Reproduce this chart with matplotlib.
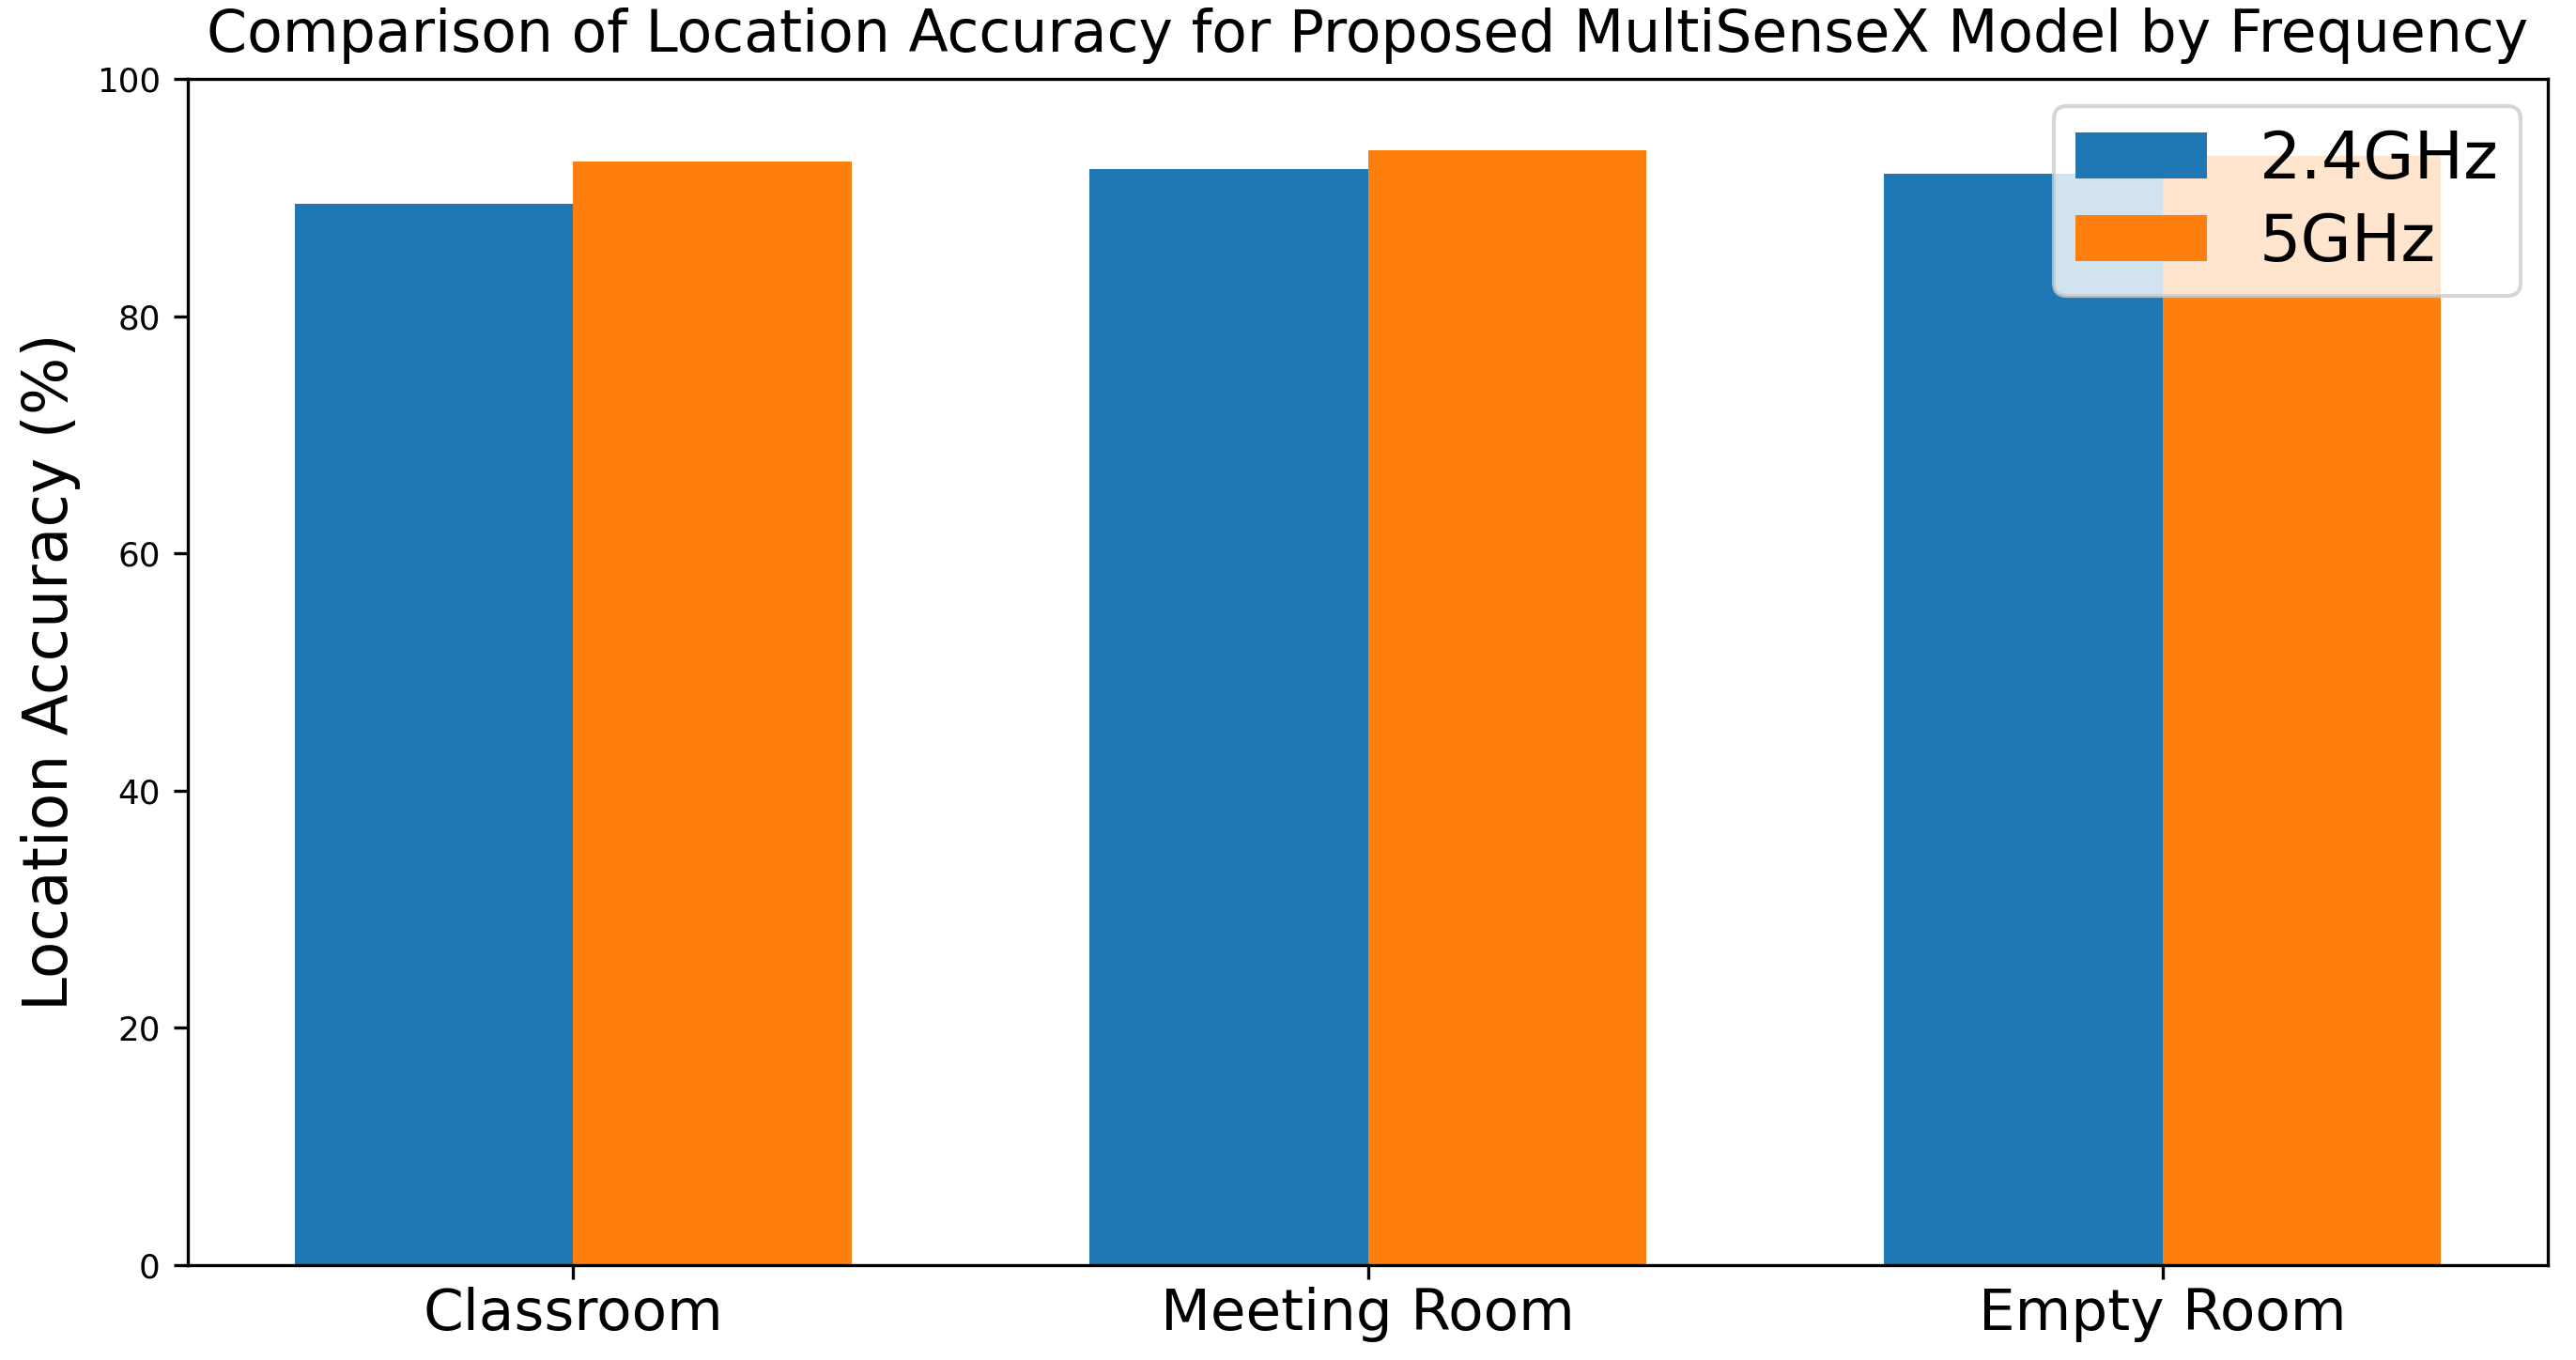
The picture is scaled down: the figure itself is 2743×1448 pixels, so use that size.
import matplotlib
matplotlib.use("Agg")
import matplotlib.pyplot as plt
import numpy as np

categories = ["Classroom", "Meeting Room", "Empty Room"]
series_names = ["2.4GHz", "5GHz"]
acc_24 = [89.5, 92.4, 92.0]
acc_5 = [93.0, 94.0, 93.5]
yticks = [0, 20, 40, 60, 80, 100]

fig = plt.figure(figsize=(2743 / 300, 1448 / 300), dpi=300)
ax = fig.add_axes([200 / 2743, 1 - 1347 / 1448, (2713 - 200) / 2743, (1347 - 84) / 1448])

x = np.arange(len(categories))
w = 0.35
ax.bar(x - w / 2, acc_24, w, label=series_names[0], color="#1f77b4")
ax.bar(x + w / 2, acc_5, w, label=series_names[1], color="#ff7f0e")

ax.set_ylim(0, 100)
ax.set_yticks(yticks)
ax.set_xticks(x)
ax.set_xticklabels(categories, fontsize=14.7)
ax.tick_params(axis="x", pad=2)
ax.tick_params(axis="y", labelsize=8.6)
ax.set_ylabel("Location Accuracy (%)", fontsize=15.5)
ax.set_title("Comparison of Location Accuracy for Proposed MultiSenseX Model by Frequency",
             fontsize=14.8, pad=7)
ax.legend(fontsize=16.8, loc="upper right", labelspacing=0.3, borderpad=0.33,
          borderaxespad=0.42)

fig.savefig("out.png", dpi=300)
